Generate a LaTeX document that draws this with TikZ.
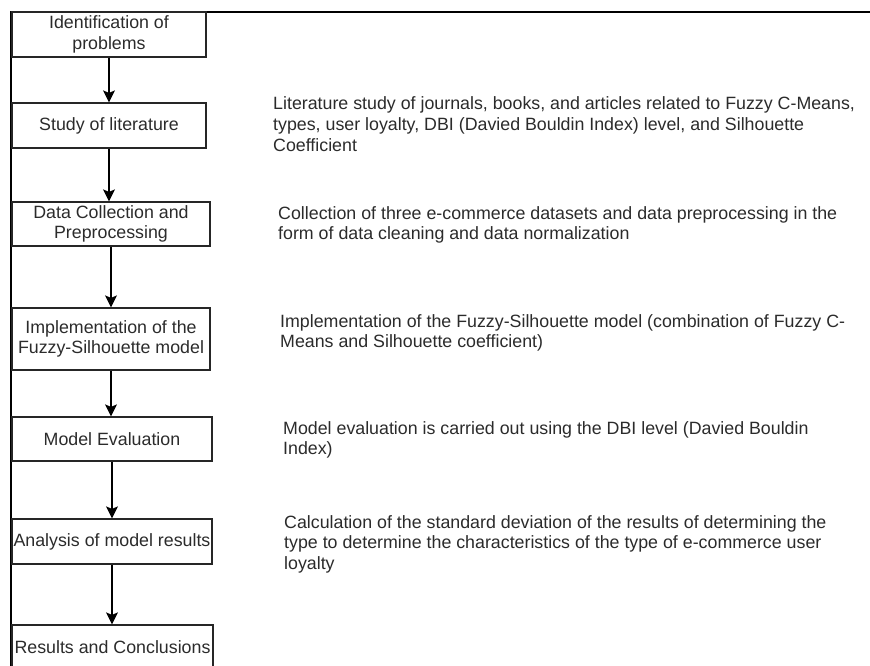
\documentclass[tikz,border=0pt]{standalone}
\usepackage{fontspec}
\setmainfont{Liberation Sans}
\usetikzlibrary{positioning,arrows.meta}
\definecolor{inkgray}{HTML}{2B2B2B}

\begin{document}
\begin{tikzpicture}[x=1pt, y=-1pt,
    stepbox/.style={draw=black!85, line width=1.2pt, text=inkgray, align=center,
        inner sep=0pt, font=\fontsize{17.8}{20.5}\selectfont},
    desc/.style={anchor=base west, align=left, inner sep=0pt, text=inkgray,
        font=\fontsize{17.8}{20.5}\selectfont},
    flow/.style={-{Stealth[length=12pt, width=12pt, inset=2.5pt]}, line width=1.1pt}]
    \useasboundingbox (0,0) rectangle (870,666);
    \clip (0,0) rectangle (870,666);

    % Frame
    \draw[line width=2.2pt] (870,12) -- (11,12) -- (11,666);

    % Steps
    \node[stepbox, minimum width=194pt, minimum height=45pt] (ident) at (109,34.5) {Identification of\\problems};
    \node[stepbox, minimum width=194pt, minimum height=45pt] (study) at (109,125.5) {Study of literature};
    \node[stepbox, minimum width=198pt, minimum height=44pt] (collect) at (111,224) {Data Collection and\\Preprocessing};
    \node[stepbox, minimum width=198pt, minimum height=62pt] (impl) at (111,339) {Implementation of the\\Fuzzy-Silhouette model};
    \node[stepbox, minimum width=200pt, minimum height=44pt] (evalm) at (112,439) {Model Evaluation};
    \node[stepbox, minimum width=200pt, minimum height=45pt] (analysis) at (112,541.5) {Analysis of model results};
    \node[stepbox, minimum width=201pt, minimum height=44pt] (results) at (112.5,647) {Results and Conclusions};

    % Arrows
    \foreach \a/\b in {ident/study, study/collect, collect/impl, impl/evalm, evalm/analysis, analysis/results} {
        \draw[flow] (\a.south) -- (\a.south |- \b.north);
    }

    % Descriptions (base = baseline of the last line)
    \node[desc] (dstudy) at (273,151) {Literature study of journals, books, and articles related to Fuzzy C-Means,\\types, user loyalty, DBI (Davied Bouldin Index) level, and Silhouette\\Coefficient};
    \node[desc] (dcollect) at (278,239.5) {Collection of three e-commerce datasets and data preprocessing in the\\form of data cleaning and data normalization};
    \node[desc] (dimpl) at (280,347.5) {Implementation of the Fuzzy-Silhouette model (combination of Fuzzy C-\\Means and Silhouette coefficient)};
    \node[desc] (devalm) at (283,454.5) {Model evaluation is carried out using the DBI level (Davied Bouldin\\Index)};
    \node[desc] (danalysis) at (284,569) {Calculation of the standard deviation of the results of determining the\\type to determine the characteristics of the type of e-commerce user\\loyalty};
\end{tikzpicture}
\end{document}
